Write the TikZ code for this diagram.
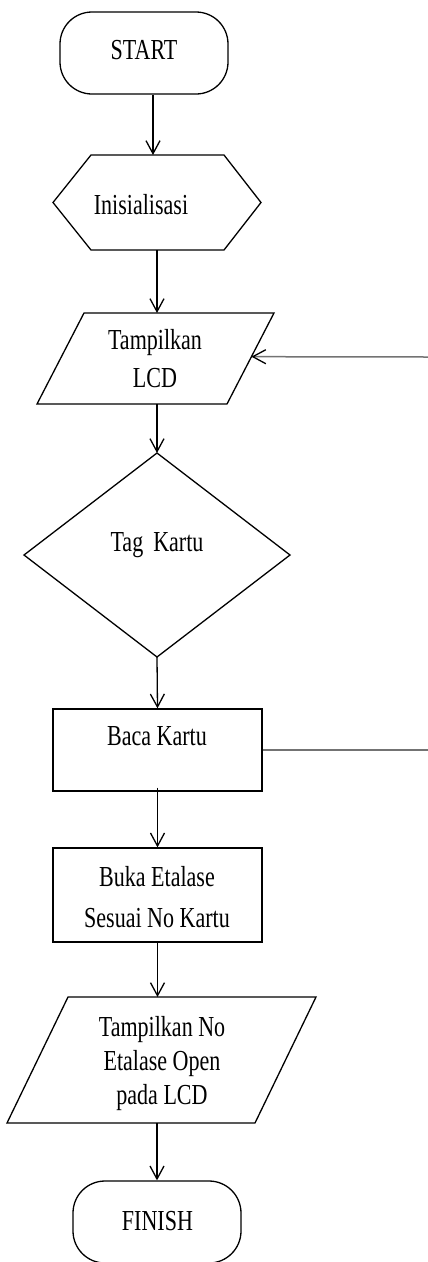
\documentclass[tikz,border=0pt]{standalone}
\usepackage{fontspec}
\setmainfont{Liberation Serif}[FakeStretch=0.76]
\usetikzlibrary{arrows.meta,calc}
\begin{document}
\begin{tikzpicture}[x=1pt,y=-1pt,
  line width=1.3pt,
  box/.style={draw, line width=1.3pt, inner sep=0pt},
  ghost/.style={inner sep=0pt, outer sep=0pt, draw=none},
  arr/.style={-{Straight Barb[length=13pt,width=14pt,line width=1.3pt,color=black]}},
  lbl/.style={inner sep=0pt, anchor=north, align=center, font=\fontsize{29}{38}\selectfont},
  fb/.style={draw=black!55, line width=1.5pt}]
\useasboundingbox (0,0) rectangle (428,1262);

% START
\node[box, rectangle, rounded corners=32pt, minimum width=168pt, minimum height=82pt] (start) at (144,53) {};
\node[lbl] (tstart) at (144,39.5) {START};

% Inisialisasi (hexagon)
\node[ghost, minimum width=208pt, minimum height=95pt] (init) at (157,202.5) {};
\draw ([xshift=38pt]init.north west) -- ([xshift=-37pt]init.north east) -- (init.east)
  -- ([xshift=-37pt]init.south east) -- ([xshift=38pt]init.south west) -- (init.west) -- cycle;
\node[lbl] (tinit) at (141,194) {Inisialisasi};

% Tampilkan LCD (parallelogram)
\node[ghost, minimum width=237pt, minimum height=91pt] (lcd) at (155.5,358.5) {};
\coordinate (lcdTL) at ([xshift=47pt]lcd.north west);
\coordinate (lcdTR) at (lcd.north east);
\coordinate (lcdBR) at ([xshift=-47pt]lcd.south east);
\coordinate (lcdBL) at (lcd.south west);
\draw (lcdTL) -- (lcdTR) -- (lcdBR) -- (lcdBL) -- cycle;
\coordinate (lcdIn) at ($(lcdTR)!0.48!(lcdBR)$);
\node[lbl] (tlcd) at (155,329) {Tampilkan\\LCD};

% Tag Kartu (diamond)
\node[ghost, minimum width=266pt, minimum height=204pt] (tag) at (157,555) {};
\draw (tag.north) -- (tag.east) -- (tag.south) -- (tag.west) -- cycle;
\node[lbl] (ttag) at (157,532) {Tag\hspace{10pt}Kartu};

% Baca Kartu
\node[box, rectangle, minimum width=209pt, minimum height=82pt] (baca) at (157.5,750) {};
\node[lbl] (tbaca) at (157,726) {Baca Kartu};

% Buka Etalase
\node[box, rectangle, minimum width=209pt, minimum height=94pt] (buka) at (157.5,895) {};
\node[lbl, font=\fontsize{29}{41}\selectfont] (tbuka) at (157,866) {Buka Etalase\\Sesuai No Kartu};

% Output parallelogram
\node[ghost, minimum width=309pt, minimum height=126pt] (out) at (161.5,1060) {};
\coordinate (outTL) at ([xshift=61pt]out.north west);
\coordinate (outTR) at (out.north east);
\coordinate (outBR) at ([xshift=-61pt]out.south east);
\coordinate (outBL) at (out.south west);
\draw (outTL) -- (outTR) -- (outBR) -- (outBL) -- cycle;
\node[lbl, font=\fontsize{29}{34}\selectfont] (tout) at (162,1016) {Tampilkan No\\Etalase Open\\pada LCD};

% FINISH
\node[box, rectangle, rounded corners=32pt, minimum width=168pt, minimum height=82pt] (finish) at (157,1222) {};
\node[lbl] (tfinish) at (157.5,1211) {FINISH};

% connectors
\draw[arr] ([xshift=9pt]start.south) -- ([xshift=9pt]start.south |- init.north);
\draw[arr] (init.south) -- (init.south |- lcd.north);
\draw[arr] (init.south |- lcd.south) -- (tag.north);
\draw[arr] (tag.south) -- (baca.north);
\draw[arr] ([yshift=4pt]baca.south) -- (baca.south |- buka.north);
\draw[arr] (buka.south) -- (buka.south |- out.north);
\draw[arr] (finish.north |- out.south) -- (finish.north);

% feedback lines
\coordinate (e1) at (428,357);
\coordinate (e2) at (428,748);
\draw[fb, arr] (e1) -- (lcdIn);
\draw[fb] (baca.east) -- (baca.east -| e2);
\end{tikzpicture}
\end{document}
